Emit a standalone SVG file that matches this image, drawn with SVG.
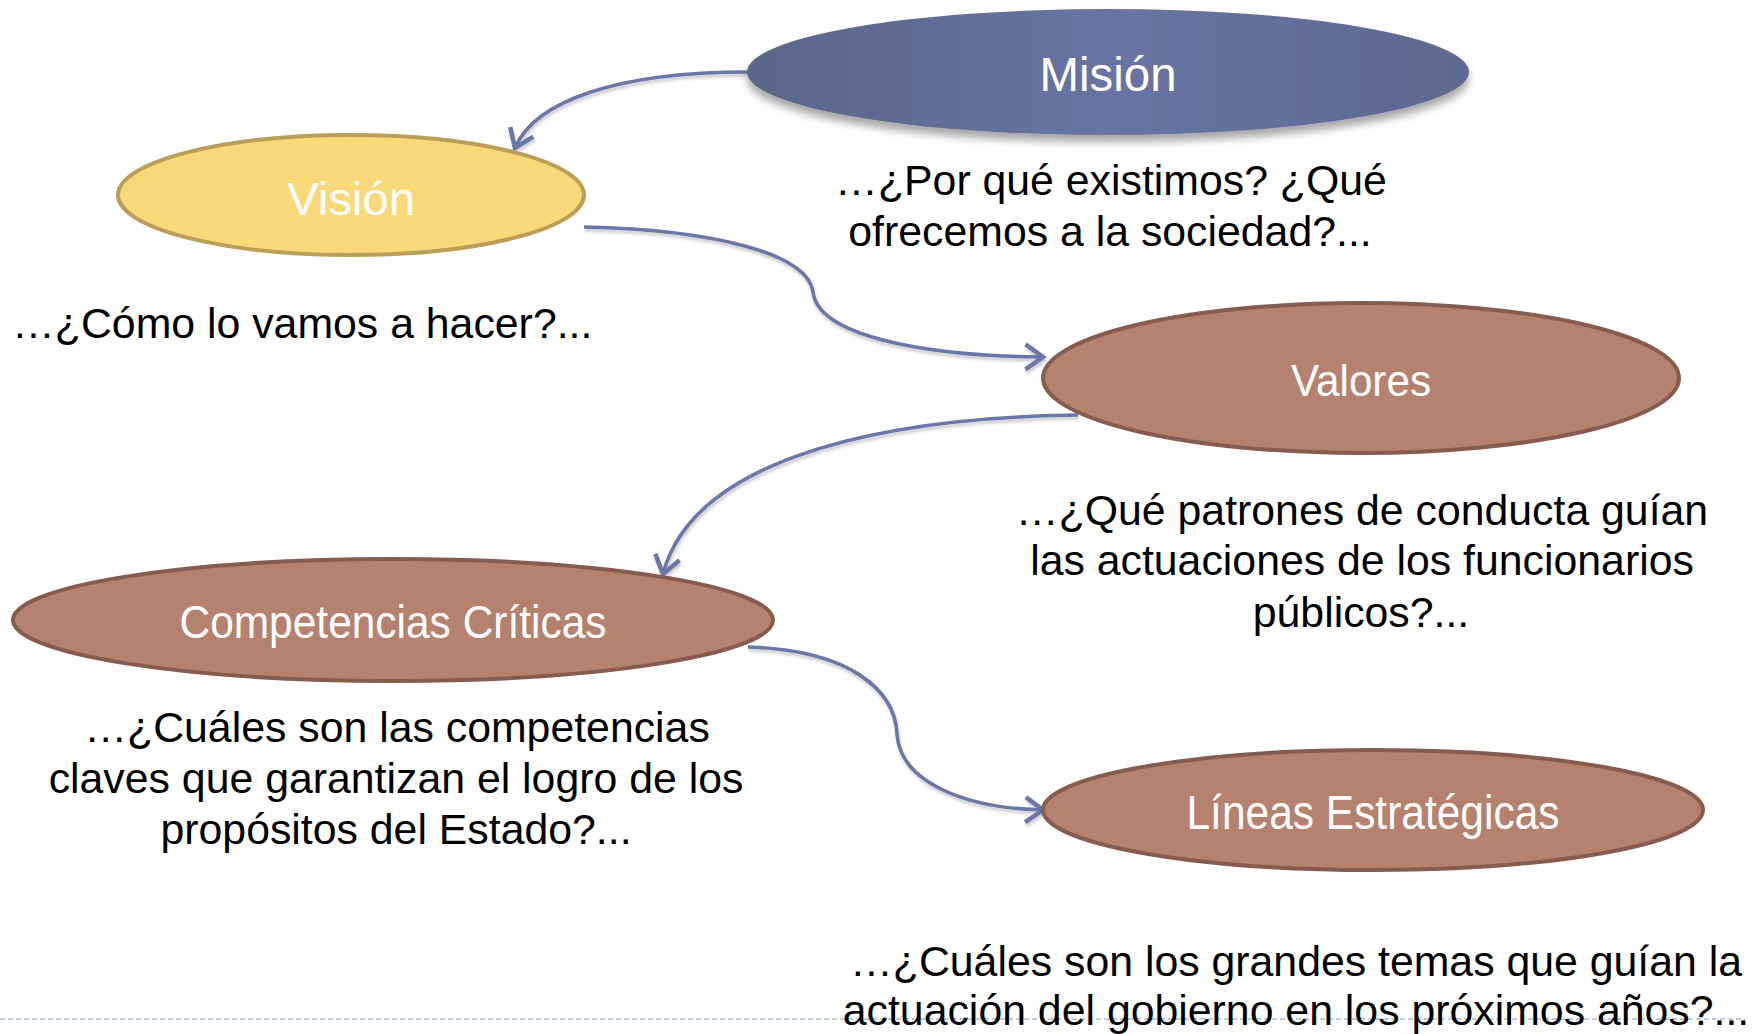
<svg xmlns="http://www.w3.org/2000/svg" width="1758" height="1034" viewBox="0 0 1758 1034">
<style>
.lbl{font-family:"Liberation Sans",Arial,sans-serif;fill:#ffffff;text-anchor:middle}
.desc{font-family:"Liberation Sans",Arial,sans-serif;fill:#000000;font-size:42.8px}
.mid{text-anchor:middle}
.conn{fill:none;stroke:#6B77A8;stroke-width:3.6;marker-end:url(#arr)}
.brown{fill:#B5826F;stroke:#875B4D;stroke-width:4}
</style>
<defs>
<marker id="arr" markerUnits="userSpaceOnUse" markerWidth="30" markerHeight="30" viewBox="-16 -12 20 24" refX="0" refY="0" orient="auto">
<path d="M-14,-10 L0,0 L-14,10" fill="none" stroke="#6B77A8" stroke-width="3.6" stroke-linejoin="miter"/>
</marker>
<linearGradient id="gm" x1="0" y1="0" x2="1" y2="0">
<stop offset="0" stop-color="#5A6689"/>
<stop offset="0.5" stop-color="#6874A3"/>
<stop offset="1" stop-color="#5D6990"/>
</linearGradient>
<filter id="sh" x="-10%" y="-20%" width="120%" height="150%">
<feDropShadow dx="0" dy="7" stdDeviation="4" flood-color="#000" flood-opacity="0.35"/>
</filter>
<filter id="csh" x="-10%" y="-10%" width="120%" height="130%">
<feDropShadow dx="1" dy="3" stdDeviation="1.5" flood-color="#000" flood-opacity="0.2"/>
</filter>
</defs>
<rect width="1758" height="1034" fill="#ffffff"/>
<line x1="0" y1="1019" x2="1745" y2="1019" stroke="#A9BCD8" stroke-width="1.6" stroke-dasharray="5,3"/>
<g id="connectors" filter="url(#csh)">
<path class="conn" d="M747,72 C620,72 535,100 515,148"/>
<path class="conn" d="M584,227 C720,230 808,255 813,292 C818,335 920,356 1043,357"/>
<path class="conn" d="M1078,415 C850,418 690,470 663,574"/>
<path class="conn" d="M748,647 C850,650 895,690 897,734 C900,780 960,808 1043,810"/>
</g>
<g id="mision">
<ellipse cx="1108" cy="72" rx="361" ry="63" fill="url(#gm)" filter="url(#sh)"/>
<text class="lbl" x="1108" y="91" font-size="48" textLength="137" lengthAdjust="spacingAndGlyphs">Misión</text>
</g>
<g id="vision">
<ellipse cx="351" cy="195" rx="233" ry="60" fill="#F9D97A" stroke="#BC9F57" stroke-width="4"/>
<text class="lbl" x="351" y="215" font-size="47" textLength="128" lengthAdjust="spacingAndGlyphs">Visión</text>
</g>
<g id="valores">
<ellipse class="brown" cx="1361" cy="378" rx="318" ry="75"/>
<text class="lbl" x="1361" y="396" font-size="45" textLength="140" lengthAdjust="spacingAndGlyphs">Valores</text>
</g>
<g id="competencias">
<ellipse class="brown" cx="393" cy="620" rx="380" ry="61"/>
<text class="lbl" x="393" y="638" font-size="47" textLength="427" lengthAdjust="spacingAndGlyphs">Competencias Críticas</text>
</g>
<g id="lineas">
<ellipse class="brown" cx="1373" cy="810" rx="330" ry="60"/>
<text class="lbl" x="1373" y="829" font-size="48" textLength="373" lengthAdjust="spacingAndGlyphs">Líneas Estratégicas</text>
</g>
<g id="texts">
<text class="desc mid" x="1111" y="195">…¿Por qué existimos? ¿Qué</text>
<text class="desc mid" x="1110" y="246">ofrecemos a la sociedad?...</text>
<text class="desc" x="12" y="338">…¿Cómo lo vamos a hacer?...</text>
<text class="desc mid" x="1362" y="525">…¿Qué patrones de conducta guían</text>
<text class="desc mid" x="1362" y="575">las actuaciones de los funcionarios</text>
<text class="desc mid" x="1361" y="627">públicos?...</text>
<text class="desc mid" x="397" y="742">…¿Cuáles son las competencias</text>
<text class="desc mid" x="396" y="793">claves que garantizan el logro de los</text>
<text class="desc mid" x="396" y="844">propósitos del Estado?...</text>
<text class="desc mid" x="1296" y="976">…¿Cuáles son los grandes temas que guían la</text>
<text class="desc mid" x="1296" y="1025">actuación del gobierno en los próximos años?...</text>
</g>
</svg>
